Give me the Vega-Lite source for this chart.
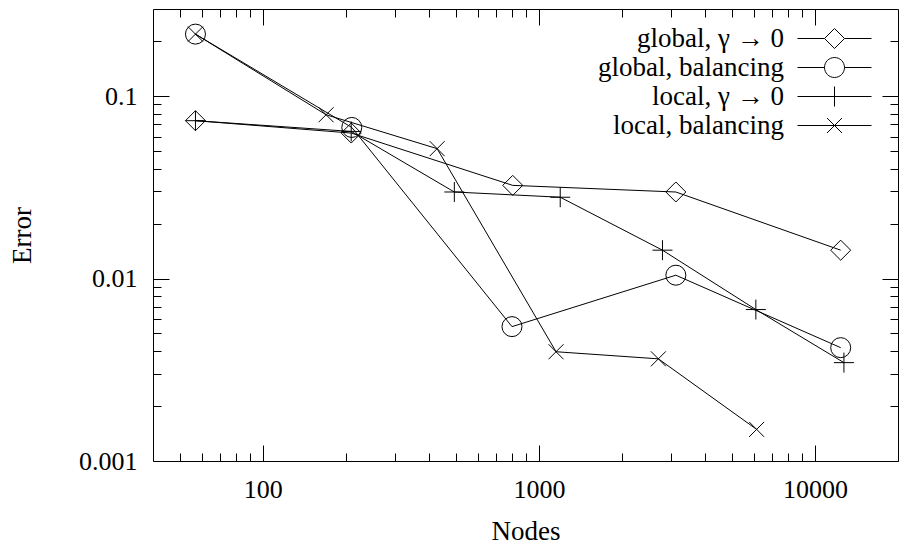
{
  "$schema": "https://vega.github.io/schema/vega-lite/v6.json",
  "width": 745,
  "height": 452,
  "autosize": {"type": "none"},
  "padding": {"left": 153, "top": 9, "right": 1, "bottom": 86},
  "background": "white",
  "config": {
    "view": {"stroke": "black", "strokeWidth": 1},
    "font": "Liberation Serif",
    "axis": {"grid": false, "domain": false, "tickColor": "black", "tickWidth": 1, "labelColor": "black", "labelFont": "Liberation Serif", "titleFont": "Liberation Serif", "titleColor": "black", "titleFontWeight": "normal"},
    "legend": {"labelFont": "Liberation Serif"}
  },
  "data": {
    "values": [
      {"series": "global, γ → 0", "nodes": 57, "error": 0.0733},
      {"series": "global, γ → 0", "nodes": 209, "error": 0.0627},
      {"series": "global, γ → 0", "nodes": 804, "error": 0.0324},
      {"series": "global, γ → 0", "nodes": 3135, "error": 0.0298},
      {"series": "global, γ → 0", "nodes": 12400, "error": 0.0143},
      {"series": "global, balancing", "nodes": 57, "error": 0.2185},
      {"series": "global, balancing", "nodes": 210, "error": 0.0673},
      {"series": "global, balancing", "nodes": 799, "error": 0.00545},
      {"series": "global, balancing", "nodes": 3135, "error": 0.01043},
      {"series": "global, balancing", "nodes": 12400, "error": 0.00418},
      {"series": "local, γ → 0", "nodes": 57, "error": 0.0733},
      {"series": "local, γ → 0", "nodes": 209, "error": 0.064},
      {"series": "local, γ → 0", "nodes": 494, "error": 0.0298},
      {"series": "local, γ → 0", "nodes": 1195, "error": 0.0279},
      {"series": "local, γ → 0", "nodes": 2804, "error": 0.0143},
      {"series": "local, γ → 0", "nodes": 6110, "error": 0.00676},
      {"series": "local, γ → 0", "nodes": 12740, "error": 0.00346},
      {"series": "local, balancing", "nodes": 57, "error": 0.2185},
      {"series": "local, balancing", "nodes": 169.5, "error": 0.079},
      {"series": "local, balancing", "nodes": 428, "error": 0.0515},
      {"series": "local, balancing", "nodes": 1154, "error": 0.00397},
      {"series": "local, balancing", "nodes": 2710, "error": 0.00363},
      {"series": "local, balancing", "nodes": 6150, "error": 0.00149}
    ]
  },
  "resolve": {"axis": {"x": "independent", "y": "independent"}, "scale": {"shape": "independent"}},
  "layer": [
    {
      "mark": {"type": "line", "stroke": "black", "strokeWidth": 1},
      "encoding": {
        "x": {"field": "nodes", "type": "quantitative", "scale": {"type": "log", "domain": [40, 20000], "nice": false},
          "axis": {"orient": "bottom", "values": [100, 1000, 10000], "format": "d", "ticks": false, "labelPadding": 15, "labelFont": "Liberation Serif", "labelFontSize": 26, "title": "Nodes", "titleFont": "Liberation Serif", "titleFontSize": 27, "titleY": 78, "titleBaseline": "alphabetic"}},
        "y": {"field": "error", "type": "quantitative", "scale": {"type": "log", "domain": [0.001, 0.3], "nice": false},
          "axis": {"orient": "left", "values": [0.001, 0.01, 0.1], "format": "~g", "ticks": false, "labelPadding": 16, "labelFont": "Liberation Serif", "labelFontSize": 26, "title": "Error", "titleFont": "Liberation Serif", "titleFontSize": 27, "titleX": -123, "titleBaseline": "alphabetic"}},
        "detail": {"field": "series"}
      }
    },
    {
      "mark": {"type": "point", "filled": false, "stroke": "black", "strokeWidth": 1, "size": 400, "opacity": 1},
      "encoding": {
        "x": {"field": "nodes", "type": "quantitative", "axis": {"orient": "bottom", "values": [100, 1000, 10000], "labels": false, "tickSize": -16, "title": null}},
        "y": {"field": "error", "type": "quantitative", "axis": {"orient": "left", "values": [0.001, 0.01, 0.1], "labels": false, "tickSize": -16, "title": null}},
        "shape": {"field": "series", "type": "nominal",
          "scale": {"domain": ["global, γ → 0", "global, balancing", "local, γ → 0", "local, balancing"],
            "range": ["diamond", "circle", "M-1,0H1M0,-1V1", "M-0.75,-0.75L0.75,0.75M-0.75,0.75L0.75,-0.75"]},
          "legend": null}
      }
    },
    {
      "mark": {"type": "point", "opacity": 0},
      "encoding": {
        "x": {"field": "nodes", "type": "quantitative", "axis": {"orient": "bottom", "values": [50, 60, 70, 80, 90, 200, 300, 400, 500, 600, 700, 800, 900, 2000, 3000, 4000, 5000, 6000, 7000, 8000, 9000], "labels": false, "tickSize": -8, "title": null}},
        "y": {"field": "error", "type": "quantitative", "axis": {"orient": "left", "values": [0.002, 0.003, 0.004, 0.005, 0.006, 0.007, 0.008, 0.009, 0.02, 0.03, 0.04, 0.05, 0.06, 0.07, 0.08, 0.09, 0.2], "labels": false, "tickSize": -8, "title": null}}
      }
    },
    {
      "mark": {"type": "point", "opacity": 0},
      "encoding": {
        "x": {"field": "nodes", "type": "quantitative", "axis": {"orient": "top", "values": [100, 1000, 10000], "labels": false, "tickSize": -16, "title": null}},
        "y": {"field": "error", "type": "quantitative", "axis": {"orient": "right", "values": [0.001, 0.01, 0.1], "labels": false, "tickSize": -16, "title": null}}
      }
    },
    {
      "mark": {"type": "point", "opacity": 0},
      "encoding": {
        "x": {"field": "nodes", "type": "quantitative", "axis": {"orient": "top", "values": [50, 60, 70, 80, 90, 200, 300, 400, 500, 600, 700, 800, 900, 2000, 3000, 4000, 5000, 6000, 7000, 8000, 9000], "labels": false, "tickSize": -8, "title": null}},
        "y": {"field": "error", "type": "quantitative", "axis": {"orient": "right", "values": [0.002, 0.003, 0.004, 0.005, 0.006, 0.007, 0.008, 0.009, 0.02, 0.03, 0.04, 0.05, 0.06, 0.07, 0.08, 0.09, 0.2], "labels": false, "tickSize": -8, "title": null}}
      }
    },
    {
      "transform": [{"filter": "false"}],
      "mark": {"type": "point", "filled": false, "stroke": "black", "strokeWidth": 1, "size": 400},
      "encoding": {
        "shape": {"field": "series", "type": "nominal",
          "scale": {"domain": ["global, γ → 0", "global, balancing", "local, γ → 0", "local, balancing"],
            "range": ["M-3.7,0H-1M1,0H3.7M-1,0L0,-1L1,0L0,1Z", "M-3.7,0H-1M1,0H3.7M1,0A1,1,0,1,1,-1,0A1,1,0,1,1,1,0", "M-3.7,0H3.7M0,-1V1", "M-3.7,0H3.7M-0.75,-0.75L0.75,0.75M-0.75,0.75L0.75,-0.75"]},
          "legend": {"title": null, "orient": "none", "legendX": 668, "legendY": 16, "padding": 0, "symbolSize": 400, "symbolStrokeColor": "black", "symbolFillColor": "transparent", "symbolStrokeWidth": 1, "symbolOpacity": 1, "labelFont": "Liberation Serif", "labelFontSize": 27, "labelColor": "black", "labelLimit": 500, "labelAlign": "right", "labelOffset": -64, "rowPadding": 1}}
      }
    }
  ]
}
